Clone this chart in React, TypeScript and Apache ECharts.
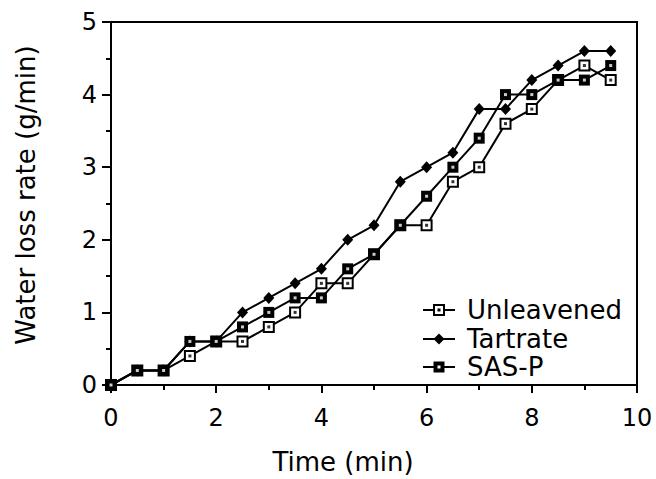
import React, { useEffect, useRef } from "react";
import * as echarts from "echarts";

const times = [0, 0.5, 1, 1.5, 2, 2.5, 3, 3.5, 4, 4.5, 5, 5.5, 6, 6.5, 7, 7.5, 8, 8.5, 9, 9.5];
const unleavened = [0, 0.2, 0.2, 0.4, 0.6, 0.6, 0.8, 1.0, 1.4, 1.4, 1.8, 2.2, 2.2, 2.8, 3.0, 3.6, 3.8, 4.2, 4.4, 4.2];
const tartrate = [0, 0.2, 0.2, 0.6, 0.6, 1.0, 1.2, 1.4, 1.6, 2.0, 2.2, 2.8, 3.0, 3.2, 3.8, 3.8, 4.2, 4.4, 4.6, 4.6];
const sasP = [0, 0.2, 0.2, 0.6, 0.6, 0.8, 1.0, 1.2, 1.2, 1.6, 1.8, 2.2, 2.6, 3.0, 3.4, 4.0, 4.0, 4.2, 4.2, 4.4];
const seriesNames = ["Unleavened", "Tartrate", "SAS-P"];
const xTitle = "Time (min)";
const yTitle = "Water loss rate (g/min)";

const FONT = "DejaVu Sans";
const pairs = (ys: number[]) => times.map((t, i) => [t, ys[i]]);

export default function App() {
  const ref = useRef<HTMLDivElement>(null);
  useEffect(() => {
    const chart = echarts.init(ref.current!, null, { renderer: "svg" });

    const legendRows = [310, 339, 367];
    const legendGraphics: any[] = [];
    seriesNames.forEach((name, i) => {
      const y = legendRows[i];
      legendGraphics.push({
        type: "line",
        shape: { x1: 423, y1: y, x2: 455, y2: y },
        style: { stroke: "#000", lineWidth: 2 },
      });
      if (i === 0) {
        legendGraphics.push({
          type: "rect",
          shape: { x: 434, y: y - 5, width: 10, height: 10 },
          style: { fill: "#fff", stroke: "#000", lineWidth: 2 },
        });
        legendGraphics.push({
          type: "rect",
          shape: { x: 437.5, y: y - 1.5, width: 3, height: 3 },
          style: { fill: "#000" },
        });
      } else if (i === 1) {
        legendGraphics.push({
          type: "polygon",
          shape: { points: [[439, y - 5.5], [444.5, y], [439, y + 5.5], [433.5, y]] },
          style: { fill: "#000" },
        });
      } else {
        legendGraphics.push({
          type: "rect",
          shape: { x: 433.5, y: y - 5.5, width: 11, height: 11 },
          style: { fill: "#000" },
        });
        legendGraphics.push({
          type: "rect",
          shape: { x: 437.5, y: y - 1.5, width: 3, height: 3 },
          style: { fill: "#fff" },
        });
      }
      legendGraphics.push({
        type: "text",
        x: 467,
        y: y,
        style: {
          text: name,
          font: `26px "${FONT}"`,
          fill: "#000",
          textAlign: "left",
          textVerticalAlign: "middle",
        },
      });
    });

    chart.setOption({
      animation: false,
      backgroundColor: "#fff",
      textStyle: { fontFamily: FONT, color: "#000" },
      grid: {
        left: 111,
        right: 19,
        top: 22,
        bottom: 94,
        show: true,
        borderColor: "#000",
        borderWidth: 2,
        backgroundColor: "transparent",
      },
      xAxis: {
        type: "value",
        min: 0,
        max: 10,
        interval: 2,
        axisLine: { show: true, lineStyle: { color: "#000", width: 2 } },
        axisTick: { show: true, length: 8, lineStyle: { color: "#000", width: 2 } },
        minorTick: { show: true, splitNumber: 2, length: 5, lineStyle: { color: "#000", width: 2 } },
        splitLine: { show: false },
        axisLabel: { fontSize: 24, color: "#000", margin: 21, fontFamily: FONT },
      },
      yAxis: {
        type: "value",
        min: 0,
        max: 5,
        interval: 1,
        axisLine: { show: true, lineStyle: { color: "#000", width: 2 } },
        axisTick: { show: true, length: 9, lineStyle: { color: "#000", width: 2 } },
        minorTick: { show: true, splitNumber: 2, length: 5, lineStyle: { color: "#000", width: 2 } },
        splitLine: { show: false },
        axisLabel: { fontSize: 24, color: "#000", margin: 14, fontFamily: FONT },
      },
      graphic: [
        {
          type: "text",
          x: 343,
          y: 462,
          style: {
            text: xTitle,
            font: `26px "${FONT}"`,
            fill: "#000",
            textAlign: "center",
            textVerticalAlign: "middle",
          },
        },
        {
          type: "text",
          x: 26,
          y: 195,
          rotation: Math.PI / 2,
          style: {
            text: yTitle,
            font: `26px "${FONT}"`,
            fill: "#000",
            textAlign: "center",
            textVerticalAlign: "middle",
          },
        },
        ...legendGraphics,
      ],
      series: [
        {
          name: seriesNames[0],
          type: "line",
          data: pairs(unleavened),
          symbol: "rect",
          symbolSize: 10,
          lineStyle: { color: "#000", width: 2 },
          itemStyle: { color: "#fff", borderColor: "#000", borderWidth: 2 },
          z: 2,
        },
        {
          name: seriesNames[1],
          type: "line",
          data: pairs(tartrate),
          symbol: "diamond",
          symbolSize: [11, 12],
          lineStyle: { color: "#000", width: 2 },
          itemStyle: { color: "#000" },
          z: 2,
        },
        {
          name: seriesNames[2],
          type: "line",
          data: pairs(sasP),
          symbol: "rect",
          symbolSize: 11,
          lineStyle: { color: "#000", width: 2 },
          itemStyle: { color: "#000" },
          z: 2,
        },
        {
          name: seriesNames[0] + " dot",
          type: "scatter",
          data: pairs(unleavened),
          symbol: "rect",
          symbolSize: 3,
          itemStyle: { color: "#000" },
          z: 4,
        },
        {
          name: seriesNames[2] + " dot",
          type: "scatter",
          data: pairs(sasP),
          symbol: "rect",
          symbolSize: 3,
          itemStyle: { color: "#fff" },
          z: 4,
        },
      ],
    });
    return () => chart.dispose();
  }, []);
  return (
    <div
      ref={ref}
      style={{ position: "fixed", left: 0, top: 0, width: 656, height: 479 }}
    />
  );
}
